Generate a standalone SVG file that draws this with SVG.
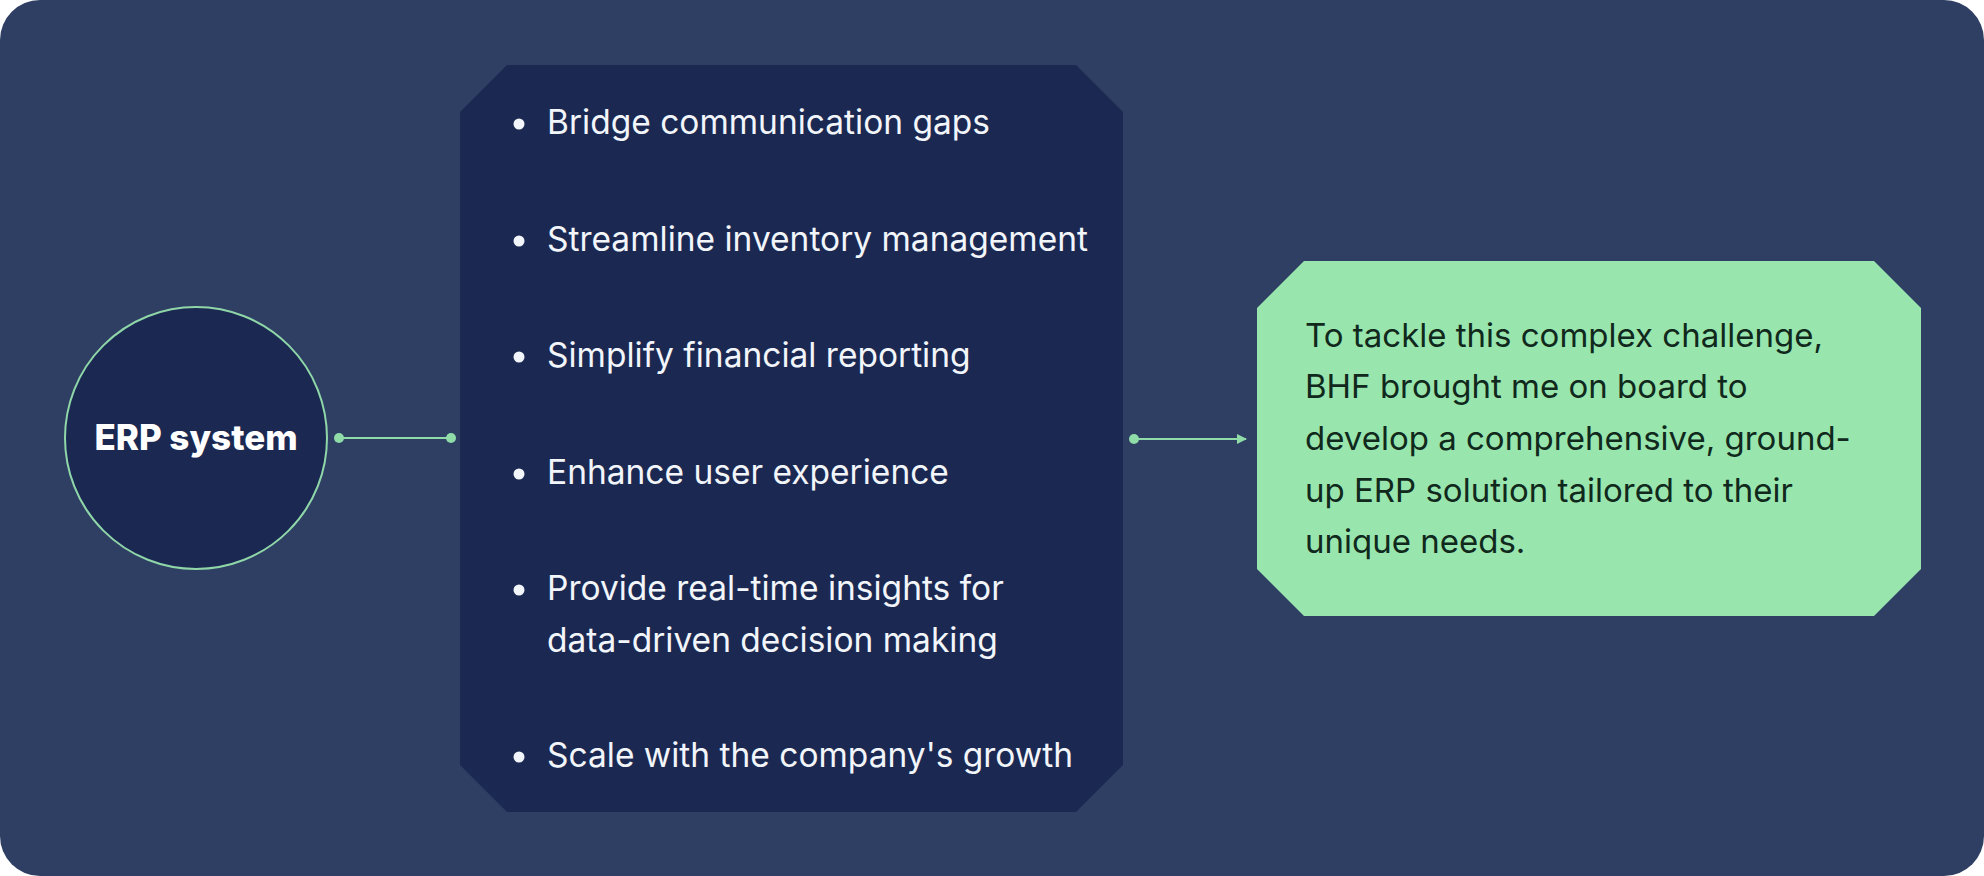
<svg xmlns="http://www.w3.org/2000/svg" width="1984" height="876" viewBox="0 0 1984 876">
<defs>
<style>
.bt{font-family:Inter,"Liberation Sans",sans-serif;font-size:33.5px;fill:#F2F5FA}
.gt{font-family:Inter,"Liberation Sans",sans-serif;font-size:33px;fill:#10291C}
.dot{fill:#8FDCA8}
.ln{stroke:#8FDCA8;stroke-width:2;fill:none}
.bul{fill:#F2F5FA}
</style>
<marker id="arr" viewBox="0 0 10 10" refX="9" refY="5" markerWidth="10" markerHeight="10" markerUnits="userSpaceOnUse" orient="auto">
<path d="M0,0 L10,5 L0,10 Z" fill="#8FDCA8"/>
</marker>
</defs>
<rect x="0" y="0" width="1984" height="876" fill="#FFFFFF"/>
<rect id="background" x="0" y="0" width="1984" height="876" rx="40" ry="40" fill="#2E3F63"/>
<g id="node-erp">
<circle cx="196" cy="438" r="131" fill="#1B2952" stroke="#8FD6A8" stroke-width="2"/>
<text x="196" y="450" text-anchor="middle" font-family="Inter,'Liberation Sans',sans-serif" font-weight="800" font-size="35" fill="#FFFFFF">ERP system</text>
</g>
<g id="node-goals">
<path d="M507,65 L1076,65 L1123,112 L1123,765 L1076,812 L507,812 L460,765 L460,112 Z" fill="#1B2952"/>
<circle class="bul" cx="519" cy="124" r="5.5"/>
<text class="bt" x="547" y="134">Bridge communication gaps</text>
<circle class="bul" cx="519" cy="241" r="5.5"/>
<text class="bt" x="547" y="251">Streamline inventory management</text>
<circle class="bul" cx="519" cy="357" r="5.5"/>
<text class="bt" x="547" y="367">Simplify financial reporting</text>
<circle class="bul" cx="519" cy="474" r="5.5"/>
<text class="bt" x="547" y="484">Enhance user experience</text>
<circle class="bul" cx="519" cy="590" r="5.5"/>
<text class="bt" x="547" y="600">Provide real-time insights for</text>
<text class="bt" x="547" y="652">data-driven decision making</text>
<circle class="bul" cx="519" cy="757" r="5.5"/>
<text class="bt" x="547" y="767">Scale with the company's growth</text>
</g>
<g id="node-solution">
<path d="M1304,261 L1874,261 L1921,308 L1921,569 L1874,616 L1304,616 L1257,569 L1257,308 Z" fill="#98E5AE"/>
<text class="gt" x="1305" y="347">To tackle this complex challenge,</text>
<text class="gt" x="1305" y="398">BHF brought me on board to</text>
<text class="gt" x="1305" y="450">develop a comprehensive, ground-</text>
<text class="gt" x="1305" y="502">up ERP solution tailored to their</text>
<text class="gt" x="1305" y="553">unique needs.</text>
</g>
<g id="connectors">
<line class="ln" x1="339" y1="438" x2="451" y2="438"/>
<circle class="dot" cx="339" cy="438" r="5"/>
<circle class="dot" cx="451" cy="438" r="5"/>
<line class="ln" x1="1134" y1="439" x2="1246" y2="439" marker-end="url(#arr)"/>
<circle class="dot" cx="1134" cy="439" r="5"/>
</g>
</svg>
